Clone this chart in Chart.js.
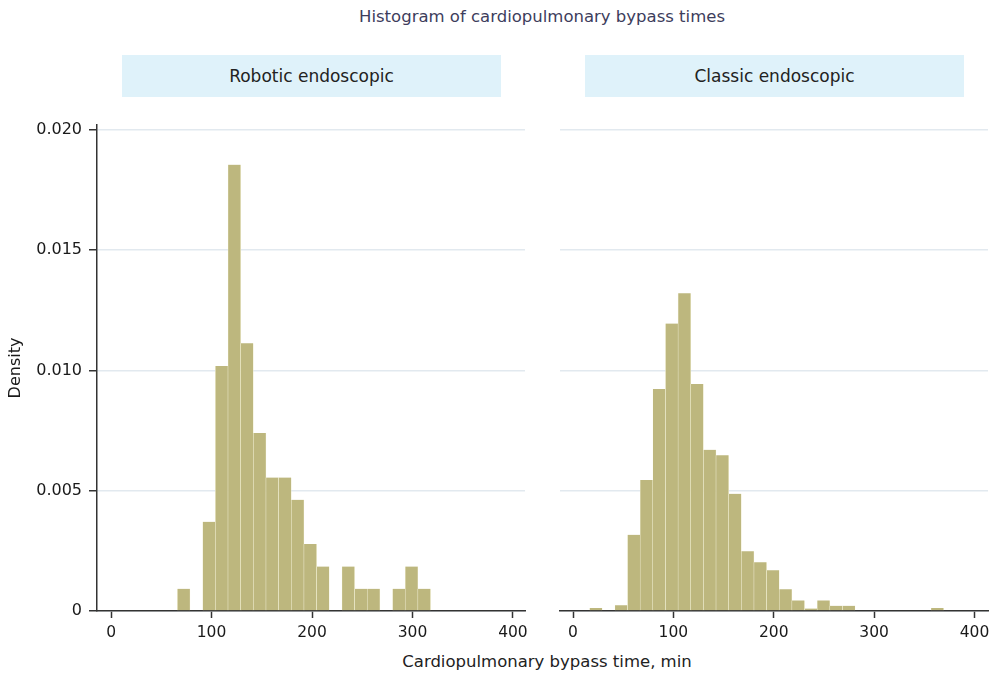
<!DOCTYPE html>
<html>
<head>
<meta charset="utf-8">
<script src="https://cdn.jsdelivr.net/npm/chart.js@4"></script>
<style>
  body { margin: 0; background: #fff; width: 989px; height: 673px; overflow: hidden; position: relative; font-family: "DejaVu Sans", sans-serif; }
  .box { position: absolute; }
  #title { left: 292px; top: 7px; width: 500px; text-align: center; font-size: 16.5px; line-height: 20px; color: #3d3d5c; }
  .strip { position: absolute; top: 55px; height: 42px; width: 379px; background: #dff2fa; text-align: center; line-height: 42px; font-size: 17px; color: #222; }
  #xtitle { left: 297px; top: 652px; width: 500px; text-align: center; font-size: 16.5px; line-height: 20px; color: #222; }
</style>
</head>
<body>
<div id="title" class="box">Histogram of cardiopulmonary bypass times</div>
<div class="strip" style="left:122px">Robotic endoscopic</div>
<div class="strip" style="left:585px">Classic endoscopic</div>
<div class="box" style="left:0;top:100px;width:540px;height:551px"><canvas id="left-chart"></canvas></div>
<div class="box" style="left:545px;top:100px;width:460px;height:551px"><canvas id="right-chart"></canvas></div>
<div id="xtitle" class="box">Cardiopulmonary bypass time, min</div>

<script>
// bin centres (min) and densities
let robotic_bins=[72.3,84.9,97.5,110.1,122.7,135.3,147.9,160.5,173.1,185.7,198.3,210.9,223.5,236.1,248.7,261.3,273.9,286.5,299.1,311.7]
let robotic_density=[0.00092,0,0.00371,0.01018,0.01855,0.01113,0.0074,0.00555,0.00555,0.00462,0.00278,0.00185,0,0.00185,0.00092,0.00092,0,0.00092,0.00185,0.00092]

let classic_bins=[22.8,35.4,48.0,60.6,73.2,85.8,98.4,111.0,123.6,136.2,148.8,161.4,174.0,186.6,199.2,211.8,224.4,237.0,249.6,262.2,274.8,287.4,300.0,312.6,325.2,337.8,350.4,363.0]
let classic_density=[0.00012,0,0.00024,0.00317,0.00545,0.00923,0.01195,0.01321,0.00944,0.0067,0.00647,0.00487,0.00248,0.00203,0.00169,0.0009,0.00044,0.0001,0.00044,0.00022,0.00022,0,0,0,0,0,0,0.00012]

let x_ticks=[0,100,200,300,400]
let y_ticks=[0,0.005,0.010,0.015,0.020]

Chart.defaults.font.family="DejaVu Sans"
Chart.defaults.color="#1a1a1a"
Chart.defaults.animation=false

function makeHist(id, bins, density, isLeft) {
  let ctx=document.getElementById(id).getContext('2d')
  return new Chart(ctx, {
    type: 'bar',
    data: {
      datasets: [{
        data: bins.map((b,i)=>({x:b, y:density[i]})),
        backgroundColor: '#bdb77e',
        borderColor: 'rgba(250,248,225,0.85)',
        borderWidth: {left:0.5, right:0.5, top:0, bottom:0},
        borderSkipped: false,
        barPercentage: 1,
        categoryPercentage: 1,
        grouped: false
      }]
    },
    options: {
      responsive: true,
      maintainAspectRatio: false,
      layout: { padding: isLeft ? {top:25,left:0,right:15,bottom:0} : {top:25,left:15,right:17,bottom:0} },
      plugins: { legend:{display:false}, tooltip:{enabled:false} },
      scales: {
        x: {
          type: 'linear',
          min: isLeft ? -14 : -13,
          max: isLeft ? 412 : 413.5,
          offset: false,
          afterBuildTicks: s => { s.ticks=x_ticks.map(v=>({value:v})) },
          afterFit: s => { s.height=40 },
          ticks: { font:{size:15.5}, padding:6, maxRotation:0, color:'#1a1a1a' },
          grid: { drawOnChartArea:false, offset:false, tickLength:7, tickColor:'#333', tickWidth:1.5 },
          border: { color:'#333', width:1.5 }
        },
        y: {
          min: 0,
          max: 0.0202,
          afterBuildTicks: s => { s.ticks=y_ticks.map(v=>({value:v})) },
          afterFit: s => { s.width = isLeft ? 97 : 0 },
          ticks: {
            display: isLeft,
            font:{size:16},
            padding: 7,
            color:'#1a1a1a',
            callback: v => v===0 ? '0' : v.toFixed(3)
          },
          grid: { color:'#e2e9ef', lineWidth:1.5, drawTicks:isLeft, tickLength:8, tickColor:'#333', tickWidth:1.5 },
          border: { display:isLeft, color:'#333', width:1.5 },
          title: { display:isLeft, text:'Density', font:{size:16}, color:'#1a1a1a', padding:{top:6,bottom:0} }
        }
      }
    }
  })
}

makeHist('left-chart', robotic_bins, robotic_density, true)
makeHist('right-chart', classic_bins, classic_density, false)
</script>
</body>
</html>
